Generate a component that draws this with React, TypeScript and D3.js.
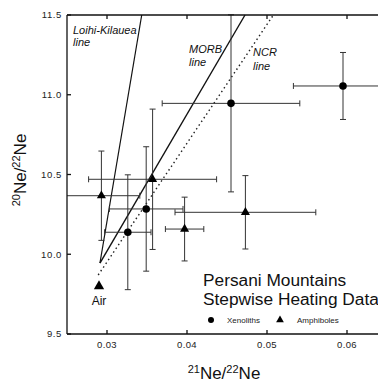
import { useEffect, useRef } from 'react'
import * as d3 from 'd3'

// xenoliths (circles)
const xenX = [0.0455, 0.0595, 0.0349, 0.0326]
const xenY = [10.946, 11.055, 10.284, 10.138]
const xenXErr = [0.0086, 0.0062, 0.0046, 0.0029]
const xenYErr = [0.555, 0.21, 0.39, 0.36]

// amphiboles (triangles)
const amphX = [0.0293, 0.0357, 0.0397, 0.0473]
const amphY = [10.367, 10.47, 10.158, 10.263]
const amphXErr = [0.0048, 0.008, 0.0024, 0.0088]
const amphYErr = [0.28, 0.44, 0.2, 0.23]

const air = [0.029, 9.8]

const loihiLine = [[0.02912, 9.945], [0.03434, 11.5]]
const morbLine = [[0.02912, 9.945], [0.04725, 11.5]]
const ncrLine = [[0.0289, 9.87], [0.0508, 11.5]]

const xTicks = [0.03, 0.04, 0.05, 0.06]
const yTicks = [9.5, 10.0, 10.5, 11.0, 11.5]

const W = 378
const H = 384
const FONT = 'Liberation Sans, Arial, Helvetica, sans-serif'

export default function App() {
  const svgRef = useRef<SVGSVGElement>(null)

  useEffect(() => {
    const svg = d3.select(svgRef.current)
    svg.selectAll('*').remove()

    const left = 67, right = 379, top = 15, bottom = 334
    const x = d3.scaleLinear().domain([0.025, 0.064]).range([left, right])
    const y = d3.scaleLinear().domain([9.5, 11.5]).range([bottom, top])

    svg.append('defs').append('clipPath').attr('id', 'plot')
      .append('rect').attr('x', left).attr('y', top - 1)
      .attr('width', right - left).attr('height', bottom - top + 2)

    const plot = svg.append('g').attr('clip-path', 'url(#plot)')

    // reference lines
    const line = d3.line<number[]>().x((d) => x(d[0])).y((d) => y(d[1]))
    plot.append('path').datum(loihiLine).attr('d', line)
      .attr('fill', 'none').attr('stroke', '#111').attr('stroke-width', 1.2)
    plot.append('path').datum(morbLine).attr('d', line)
      .attr('fill', 'none').attr('stroke', '#111').attr('stroke-width', 1.4)
    plot.append('path').datum(ncrLine).attr('d', line)
      .attr('fill', 'none').attr('stroke', '#222').attr('stroke-width', 1.4)
      .attr('stroke-dasharray', '1.5,3')

    // error bars
    const cap = 3
    const errBars = (xs: number[], ys: number[], xe: number[], ye: number[]) => {
      xs.forEach((xv, i) => {
        const g = plot.append('g').attr('stroke', '#333').attr('stroke-width', 1)
        const cx = x(xv), cy = y(ys[i])
        const x0 = x(xv - xe[i]), x1 = x(xv + xe[i])
        const y0 = y(ys[i] - ye[i]), y1 = y(ys[i] + ye[i])
        g.append('line').attr('x1', x0).attr('x2', x1).attr('y1', cy).attr('y2', cy)
        g.append('line').attr('x1', x0).attr('x2', x0).attr('y1', cy - cap).attr('y2', cy + cap)
        g.append('line').attr('x1', x1).attr('x2', x1).attr('y1', cy - cap).attr('y2', cy + cap)
        g.append('line').attr('x1', cx).attr('x2', cx).attr('y1', y0).attr('y2', y1)
        g.append('line').attr('x1', cx - cap).attr('x2', cx + cap).attr('y1', y0).attr('y2', y0)
        g.append('line').attr('x1', cx - cap).attr('x2', cx + cap).attr('y1', y1).attr('y2', y1)
      })
    }
    errBars(xenX, xenY, xenXErr, xenYErr)
    errBars(amphX, amphY, amphXErr, amphYErr)

    const tri = d3.symbol().type(d3.symbolTriangle)
    xenX.forEach((xv, i) => {
      plot.append('circle').attr('cx', x(xv)).attr('cy', y(xenY[i])).attr('r', 3.8).attr('fill', '#000')
    })
    amphX.forEach((xv, i) => {
      plot.append('path').attr('d', tri.size(36)())
        .attr('transform', `translate(${x(xv)},${y(amphY[i])})`).attr('fill', '#000')
    })
    plot.append('path').attr('d', tri.size(46)())
      .attr('transform', `translate(${x(air[0])},${y(air[1])})`).attr('fill', '#000')

    // frame
    const frame = svg.append('g').attr('stroke', '#111').attr('stroke-width', 1.3).attr('fill', 'none')
    frame.append('line').attr('x1', left).attr('x2', left).attr('y1', top).attr('y2', bottom)
    frame.append('line').attr('x1', left).attr('x2', W).attr('y1', top).attr('y2', top)
    frame.append('line').attr('x1', left).attr('x2', W).attr('y1', bottom).attr('y2', bottom)

    const tk = 4
    xTicks.forEach((t) => {
      frame.append('line').attr('x1', x(t)).attr('x2', x(t)).attr('y1', bottom).attr('y2', bottom - tk)
      frame.append('line').attr('x1', x(t)).attr('x2', x(t)).attr('y1', top).attr('y2', top + tk)
      svg.append('text').attr('x', x(t)).attr('y', bottom + 14)
        .attr('text-anchor', 'middle').attr('font-family', FONT).attr('font-size', 9.5)
        .attr('letter-spacing', 0.4).attr('fill', '#222').text(d3.format('.2f')(t))
    })
    yTicks.forEach((t) => {
      frame.append('line').attr('x1', left).attr('x2', left + tk).attr('y1', y(t)).attr('y2', y(t))
      svg.append('text').attr('x', 62).attr('y', y(t) + 3.4)
        .attr('text-anchor', 'end').attr('font-family', FONT).attr('font-size', 9.5)
        .attr('letter-spacing', 0.6).attr('fill', '#222').text(d3.format('.1f')(t))
    })

    // line labels
    const italic = (tx: number, ty: number, lines: string[], gap: number) => {
      const t = svg.append('text').attr('font-family', FONT).attr('font-size', 11)
        .attr('font-style', 'italic').attr('fill', '#111')
      lines.forEach((s, i) => t.append('tspan').attr('x', tx).attr('y', ty + i * gap).text(s))
    }
    italic(73, 34, ['Loihi-Kilauea', 'line'], 12)
    italic(189, 53, ['MORB', 'line'], 13)
    italic(253, 56, ['NCR', 'line'], 14)

    svg.append('text').attr('x', x(air[0])).attr('y', 305).attr('text-anchor', 'middle')
      .attr('font-family', FONT).attr('font-size', 12).attr('fill', '#111').text('Air')

    // legend
    const title = svg.append('text').attr('font-family', FONT).attr('font-size', 17.3).attr('fill', '#111')
    title.append('tspan').attr('x', 203).attr('y', 286).text('Persani Mountains')
    title.append('tspan').attr('x', 203).attr('y', 305).text('Stepwise Heating Data')
    svg.append('circle').attr('cx', 211).attr('cy', 320).attr('r', 3).attr('fill', '#000')
    svg.append('text').attr('x', 227).attr('y', 323).attr('font-family', FONT)
      .attr('font-size', 8).attr('fill', '#222').text('Xenoliths')
    svg.append('path').attr('d', tri.size(26)()).attr('transform', 'translate(280,320)').attr('fill', '#000')
    svg.append('text').attr('x', 297).attr('y', 323).attr('font-family', FONT)
      .attr('font-size', 8).attr('fill', '#222').text('Amphiboles')

    // axis titles
    const xt = svg.append('text').attr('x', 224).attr('y', 379)
      .attr('text-anchor', 'middle').attr('font-family', FONT).attr('font-size', 17).attr('fill', '#111')
    xt.append('tspan').attr('font-size', 11).attr('dy', -6).text('21')
    xt.append('tspan').attr('dy', 6).text('Ne/')
    xt.append('tspan').attr('font-size', 11).attr('dy', -6).text('22')
    xt.append('tspan').attr('dy', 6).text('Ne')

    const yt = svg.append('text').attr('transform', 'translate(26,170) rotate(-90)')
      .attr('text-anchor', 'middle').attr('font-family', FONT).attr('font-size', 17).attr('fill', '#111')
    yt.append('tspan').attr('font-size', 11).attr('dy', -6).text('20')
    yt.append('tspan').attr('dy', 6).text('Ne/')
    yt.append('tspan').attr('font-size', 11).attr('dy', -6).text('22')
    yt.append('tspan').attr('dy', 6).text('Ne')

    return () => { svg.selectAll('*').remove() }
  }, [])

  return (
    <svg ref={svgRef} width={W} height={H}
      style={{ position: 'absolute', left: 0, top: 0, background: '#fff' }} />
  )
}
